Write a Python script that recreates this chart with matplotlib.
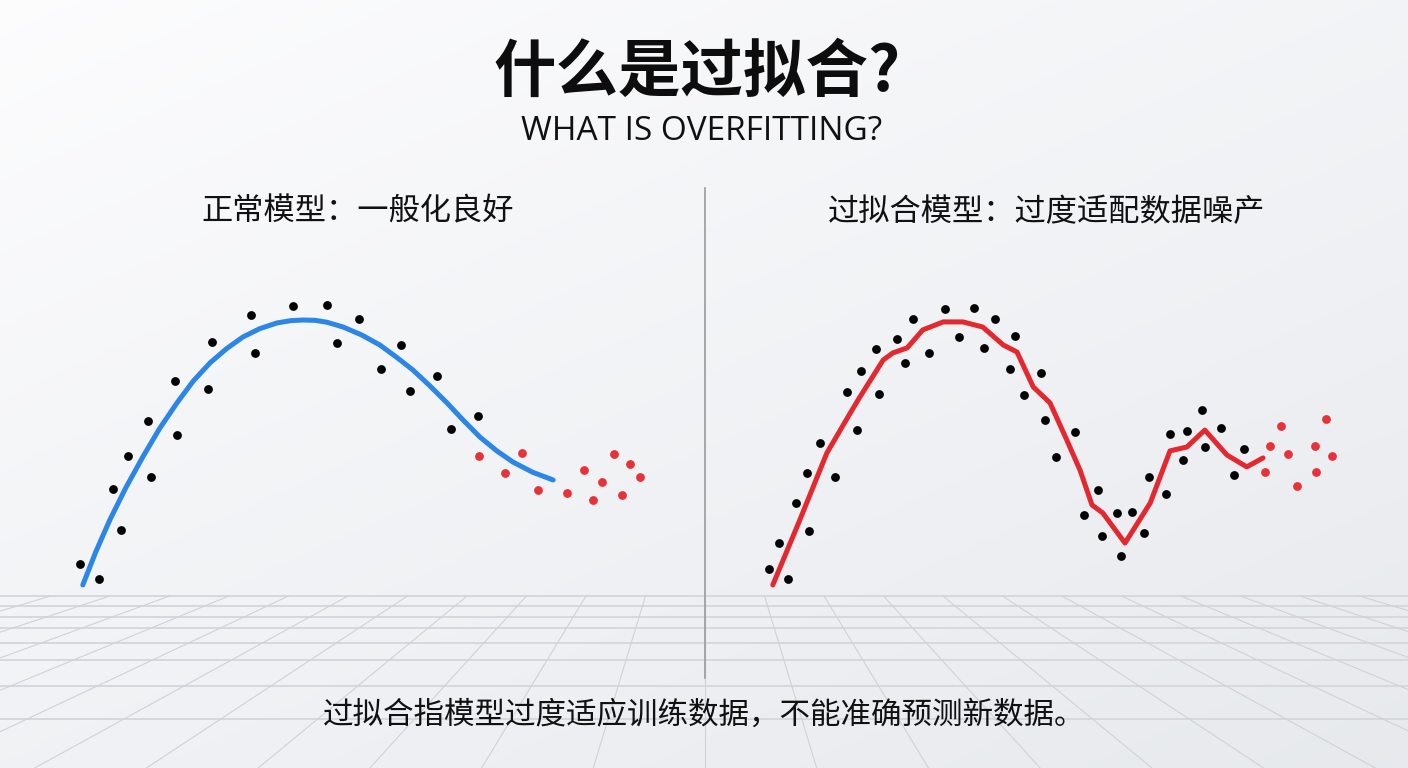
import numpy as np
import matplotlib
matplotlib.use("Agg")
import matplotlib.pyplot as plt

plt.rcParams['font.family'] = ['Noto Sans CJK SC', 'DejaVu Sans']

# left panel: normal model (x, y in panel units 0..10)
good_x = [0.33, 0.65, 1.02, 0.88, 1.13, 1.52, 1.47, 1.95, 1.92, 2.47, 2.53, 3.25,
          3.18, 3.88, 4.45, 4.62, 4.98, 5.35, 5.68, 6.28, 5.83, 6.97, 6.52]
good_y = [1.13, 0.66, 2.19, 3.47, 4.50, 3.84, 5.59, 5.16, 6.84, 6.59, 8.06, 7.72,
          8.91, 9.19, 9.22, 8.03, 8.78, 7.22, 7.97, 7.00, 6.53, 5.75, 5.34]
good_new_x = [6.98, 7.70, 7.42, 7.97, 8.45, 8.73, 8.88, 9.03, 9.23, 9.50, 9.37, 9.67]
good_new_y = [4.50, 4.59, 3.97, 3.44, 3.34, 4.06, 3.13, 3.69, 4.56, 4.25, 3.28, 3.84]
fit_x = [0.38, 0.60, 0.83, 1.10, 1.38, 1.66, 1.95, 2.22, 2.50, 2.78, 3.05, 3.33, 3.62,
         3.85, 4.05, 4.25, 4.45, 4.72, 5.03, 5.33, 5.60, 5.88, 6.16, 6.45, 6.72,
         7.00, 7.28, 7.55, 7.88, 8.22]
fit_y = [0.47, 1.52, 2.50, 3.52, 4.47, 5.36, 6.16, 6.84, 7.41, 7.86, 8.22, 8.48, 8.66,
         8.73, 8.75, 8.74, 8.68, 8.53, 8.28, 7.97, 7.60, 7.19, 6.70, 6.16, 5.62,
         5.09, 4.66, 4.31, 3.99, 3.75]

# right panel: overfitted model
over_x = [0.32, 0.63, 0.48, 0.98, 0.77, 1.42, 0.95, 1.17, 1.78, 1.62, 2.15, 1.85,
          2.10, 2.58, 2.45, 2.98, 2.72, 3.25, 3.48, 3.73, 3.90, 4.08, 4.33, 4.42,
          4.57, 4.85, 4.92, 5.42, 5.10, 5.80, 5.57, 5.87, 6.12, 6.37, 6.18, 6.57,
          6.65, 6.93, 7.00, 7.22, 7.28, 7.53, 7.58, 7.85, 8.07, 8.23]
over_y = [0.97, 0.66, 1.78, 2.16, 3.03, 3.84, 3.97, 4.91, 5.31, 6.50, 6.44, 7.16,
          7.84, 7.41, 8.16, 7.72, 8.78, 9.09, 8.22, 9.13, 7.88, 8.78, 7.22, 8.25,
          6.41, 7.09, 5.63, 5.25, 4.47, 3.44, 2.66, 2.00, 2.72, 2.75, 1.38, 2.09,
          3.84, 3.31, 5.19, 4.38, 5.28, 5.94, 4.78, 5.38, 3.91, 4.72]
over_new_x = [8.67, 8.58, 8.85, 8.97, 9.12, 9.42, 9.43, 9.60, 9.70]
over_new_y = [4.81, 4.00, 5.44, 4.56, 3.56, 4.81, 4.00, 5.66, 4.50]
wig_x = [0.38, 0.83, 1.28, 1.67, 1.83, 2.22, 2.38, 2.62, 2.88, 3.22, 3.55, 3.88,
         4.22, 4.45, 4.72, 5.00, 5.28, 5.50, 5.70, 5.88, 6.25, 6.67, 7.00, 7.28,
         7.58, 7.95, 8.28, 8.55]
wig_y = [0.47, 2.50, 4.59, 5.84, 6.34, 7.50, 7.72, 7.88, 8.44, 8.69, 8.69, 8.53,
         7.97, 7.75, 6.66, 6.16, 5.00, 4.06, 2.97, 2.72, 1.78, 3.03, 4.66, 4.78,
         5.31, 4.53, 4.16, 4.44]

# floor grid rows (pixel rows of the perspective floor)
floor_rows = [596, 606, 617, 628, 643, 660, 686, 719]

W, H = 1408, 768
fig = plt.figure(figsize=(W / 100, H / 100), dpi=100)

# background
bg = fig.add_axes([0, 0, 1, 1])
bg.set_xlim(0, W)
bg.set_ylim(H, 0)
bg.axis('off')
gx, gy = np.meshgrid(np.linspace(0, 1, 200), np.linspace(0, 1, 200))
grad = 0.55 * gy + 0.45 * gx
top = np.array([0.99, 0.99, 0.995])
bot = np.array([0.905, 0.915, 0.93])
img = top[None, None, :] * (1 - grad[..., None]) + bot[None, None, :] * grad[..., None]
bg.imshow(img, extent=[0, W, H, 0], aspect='auto', zorder=0)

# perspective floor
vx, vy = 705, 400
for r in floor_rows:
    bg.plot([0, W], [r, r], color='#d6d8dc', lw=1.4, zorder=1)
for k in range(-13, 14):
    x_top = vx + k * 59.5
    x_bot = vx + k * 59.5 * (H - vy) / (596 - vy)
    bg.plot([x_top, x_bot], [596, H], color='#d0d2d6', lw=0.8, zorder=1)
bg.plot([705, 705], [188, 678], color='#9a9a9a', lw=1.2, zorder=2)

fig.text(0.495, 0.906, '什么是过拟合?', ha='center', va='center',
         fontsize=45, fontweight='black', color='#0d0d0d')
fig.text(0.498, 0.829, 'WHAT IS OVERFITTING?', ha='center', va='center',
         fontsize=24, color='#111111', family=['Open Sans', 'DejaVu Sans'])
fig.text(0.254, 0.724, '正常模型：一般化良好', ha='center', va='center',
         fontsize=22.5, color='#111111')
fig.text(0.743, 0.724, '过拟合模型：过度适配数据噪产', ha='center', va='center',
         fontsize=22.5, color='#111111')
fig.text(0.5, 0.069, '过拟合指模型过度适应训练数据，不能准确预测新数据。',
         ha='center', va='center', fontsize=22, color='#111111')


def panel(rect, px, py, nx, ny, lx, ly, color):
    ax = fig.add_axes(rect)
    ax.set_xlim(0, 10)
    ax.set_ylim(0, 10)
    ax.axis('off')
    ax.plot(lx, ly, color=color, lw=3.6, solid_capstyle='round',
            solid_joinstyle='round', zorder=2)
    ax.scatter(px, py, s=40, color='black', zorder=3, linewidths=0)
    ax.scatter(nx, ny, s=40, color='#e8323a', zorder=3, linewidths=0)
    return ax


panel([60 / W, 168 / H, 600 / W, 320 / H], good_x, good_y, good_new_x, good_new_y,
      fit_x, fit_y, '#2b86e8')
panel([750 / W, 168 / H, 600 / W, 320 / H], over_x, over_y, over_new_x, over_new_y,
      wig_x, wig_y, '#e3282f')

fig.savefig('out.png', dpi=100)
